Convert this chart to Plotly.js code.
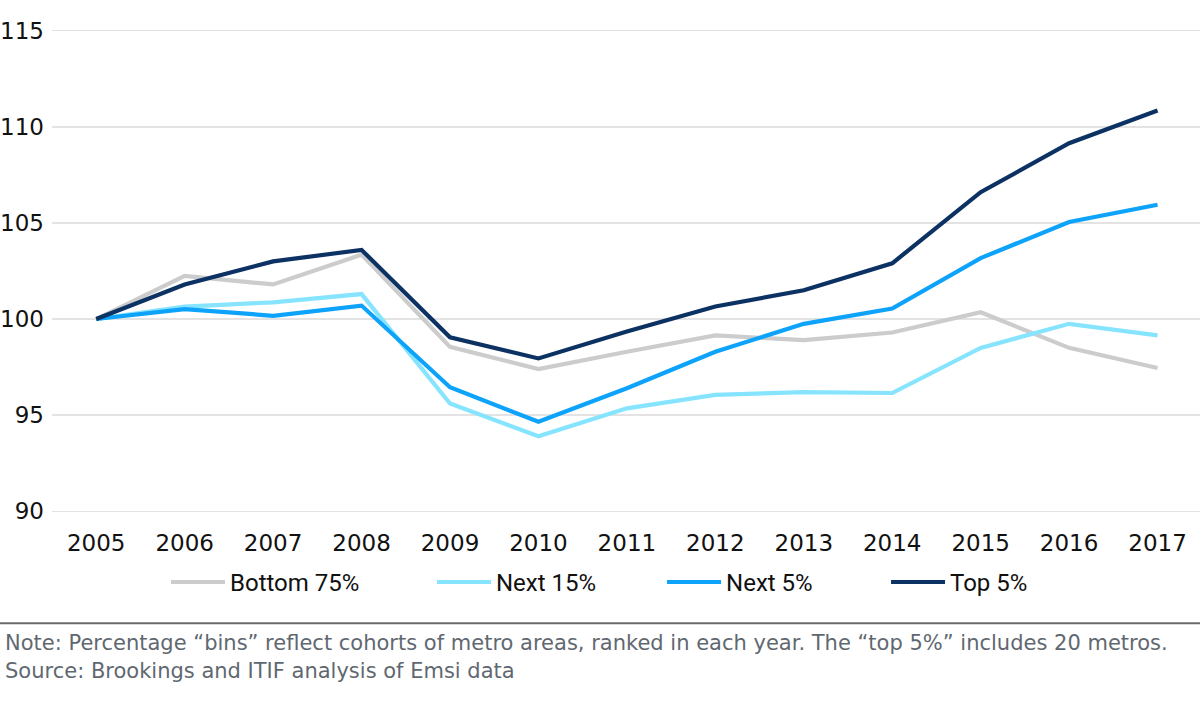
<!DOCTYPE html>
<html>
<head>
<meta charset="utf-8">
<script src="https://cdn.plot.ly/plotly-3.0.1.min.js"></script>
<style>html,body{margin:0;padding:0;background:#fff;}#chart{width:1200px;height:701px;}</style>
</head>
<body>
<div id="chart"></div>
<script>
const years = ["2005","2006","2007","2008","2009","2010","2011","2012","2013","2014","2015","2016","2017"];
const bottom75 = [100, 102.25, 101.8, 103.35, 98.55, 97.4, 98.3, 99.15, 98.9, 99.3, 100.35, 98.5, 97.45];
const next15   = [100, 100.65, 100.87, 101.3, 95.6, 93.9, 95.35, 96.05, 96.2, 96.15, 98.5, 99.75, 99.15];
const next5    = [100, 100.52, 100.17, 100.7, 96.45, 94.65, 96.4, 98.3, 99.75, 100.55, 103.17, 105.05, 105.95];
const top5     = [100, 101.8, 103.0, 103.6, 99.05, 97.95, 99.35, 100.65, 101.5, 102.9, 106.6, 109.15, 110.85];
const seriesNames = ["Bottom 75%", "Next 15%", "Next 5%", "Top 5%"];
const yTicks = [90, 95, 100, 105, 110, 115];
const noteText = "Note: Percentage “bins” reflect cohorts of metro areas, ranked in each year. The “top 5%” includes 20 metros.";
const sourceText = "Source: Brookings and ITIF analysis of Emsi data";

const colors = ["#cccccc", "#86e4ff", "#0ea3fa", "#0c3163"];
const legendIds = ["legend", "legend2", "legend3", "legend4"];
const legendX = [0.0993, 0.3310, 0.5314, 0.7265];

const data = [bottom75, next15, next5, top5].map((v, i) => ({
  x: years, y: v, type: "scatter", mode: "lines", name: seriesNames[i],
  legend: legendIds[i],
  line: {color: colors[i], width: 4.2}
}));

const tickFont = "'DejaVu Sans', sans-serif";
const legFont = "Roboto, sans-serif";
const layout = {
  width: 1200, height: 701,
  margin: {l: 52, r: 0, t: 27, b: 185.5},
  paper_bgcolor: "#fff", plot_bgcolor: "#fff",
  font: {family: legFont, size: 24, color: "#111"},
  showlegend: true,
  xaxis: {type: "category", range: [-0.5, 12.48], showgrid: false, zeroline: false,
          showline: false, ticks: "", ticklabelstandoff: 12,
          tickfont: {family: tickFont, size: 23, color: "#111"}},
  yaxis: {range: [89.8, 115.2], tickvals: yTicks, showgrid: true, gridcolor: "#e3e3e3",
          gridwidth: 1.3, zeroline: false, showline: false, ticks: "", ticklabelstandoff: 7,
          tickfont: {family: tickFont, size: 23, color: "#111"}},
  shapes: [{type: "line", xref: "paper", yref: "paper", x0: -0.05, x1: 1.01, y0: -0.2217, y1: -0.2217,
            line: {color: "#6a6a6a", width: 2}}],
  annotations: [
    {text: noteText, xref: "paper", yref: "paper", x: -0.0427, y: -0.2613, xanchor: "left", yanchor: "middle",
     showarrow: false, font: {family: tickFont, size: 21, color: "#5f6870"}},
    {text: sourceText, xref: "paper", yref: "paper", x: -0.0427, y: -0.3206, xanchor: "left", yanchor: "middle",
     showarrow: false, font: {family: tickFont, size: 21, color: "#5f6870"}}
  ]
};
legendIds.forEach((id, i) => {
  layout[id] = {orientation: "h", x: legendX[i], xanchor: "left", y: -0.1381, yanchor: "middle",
                font: {family: legFont, size: 24, color: "#111"}, itemwidth: 54,
                bgcolor: "rgba(0,0,0,0)"};
});
Plotly.newPlot("chart", data, layout, {displayModeBar: false, staticPlot: true});
</script>
</body>
</html>
